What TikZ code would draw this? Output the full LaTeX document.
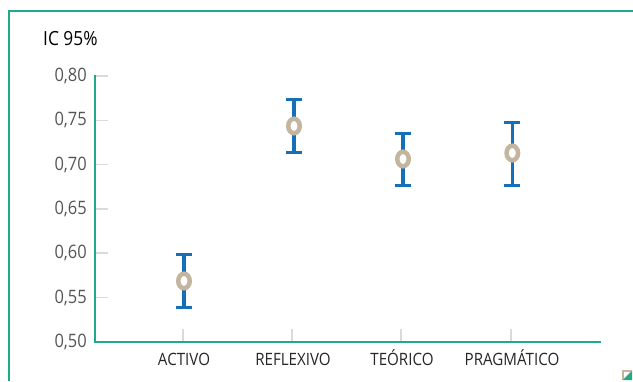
\documentclass[tikz,border=0pt]{standalone}
\usepackage{fontspec}
\setmainfont{Open Sans}
\newfontfamily\narrowfont[FakeStretch=0.89]{Open Sans}
\usetikzlibrary{shapes.geometric}
\definecolor{frameteal}{HTML}{1FAA8C}
\definecolor{barblue}{HTML}{1670B8}
\definecolor{meanbeige}{HTML}{C3B59E}
\definecolor{tickgray}{HTML}{DADADA}
\definecolor{labgray}{HTML}{555555}
\begin{document}
\begin{tikzpicture}[x=1pt,y=-1pt,
  frameline/.style={frameteal,line width=2pt},
  gridtick/.style={tickgray,line width=1.5pt},
  ylab/.style={anchor=base east,text=labgray,font=\narrowfont\fontsize{18.5}{19}\selectfont,inner sep=0pt},
  xlab/.style={anchor=base,text=black!85,font=\narrowfont\fontsize{17}{18}\selectfont,inner sep=0pt},
  errbar/.style={barblue,line width=3.5pt},
  capbar/.style={barblue,line width=3pt},
  meanmark/.style={ellipse,draw=meanbeige,line width=4.5pt,fill=white,minimum width=11.5pt,minimum height=14.5pt,inner sep=0pt}]
\useasboundingbox (0,0) rectangle (633,381);
% frame
\draw[frameline] (633,11) -- (9,11) -- (9,381);
% title
\node[anchor=base west,font=\narrowfont\fontsize{19.5}{20}\selectfont,inner sep=0pt] (title) at (43,45) {IC 95\%};
% y ticks
\foreach \v/\lab [count=\i from 0] in {341.7/0{,}50,297.4/0{,}55,253.1/0{,}60,208.9/0{,}65,164.6/0{,}70,120.3/0{,}75,76/0{,}80}{
  \draw[gridtick] (95,\v) -- (108,\v);
  \node[ylab] (yl\i) at (87,\v+5.6) {\lab};
}
% x ticks
\foreach \x in {183,292,401,511}{
  \draw[gridtick] (\x,329) -- (\x,341.7);
}
% axes
\coordinate (ytop) at (95,75);
\coordinate (orig) at (95,341.7);
\coordinate (xend) at (601,341.7);
\draw[frameline] (ytop) -- (orig) -- (xend);
% x labels
\node[xlab] (c1) at (184,365) {ACTIVO};
\node[xlab] (c2) at (293,365) {REFLEXIVO};
\node[xlab] (c3) at (402,365) {TEÓRICO};
\node[xlab] (c4) at (512,365) {PRAGMÁTICO};
% error bars
\foreach \n/\x/\t/\b/\m in {a/184/254.3/307.7/281,r/294/99.3/152.3/126,t/403/133/185.5/159,p/512.3/122.3/185.3/153}{
  \coordinate (\n top) at (\x,\t);
  \coordinate (\n bot) at (\x,\b);
  \draw[errbar] (\n top) -- (\n bot);
  \draw[capbar] ([xshift=-8pt]\n top) -- ([xshift=8pt]\n top);
  \draw[capbar] ([xshift=-8pt]\n bot) -- ([xshift=8pt]\n bot);
  \node[meanmark] (\n mean) at (\x,\m) {};
}
% corner icon
\fill[meanbeige] (622,370) rectangle (632,380);
\fill[white] (624,372) -- (630,372) -- (624,378) -- cycle;
\fill[frameteal] (632,371) -- (632,380) -- (623,380) -- cycle;
\end{tikzpicture}
\end{document}
